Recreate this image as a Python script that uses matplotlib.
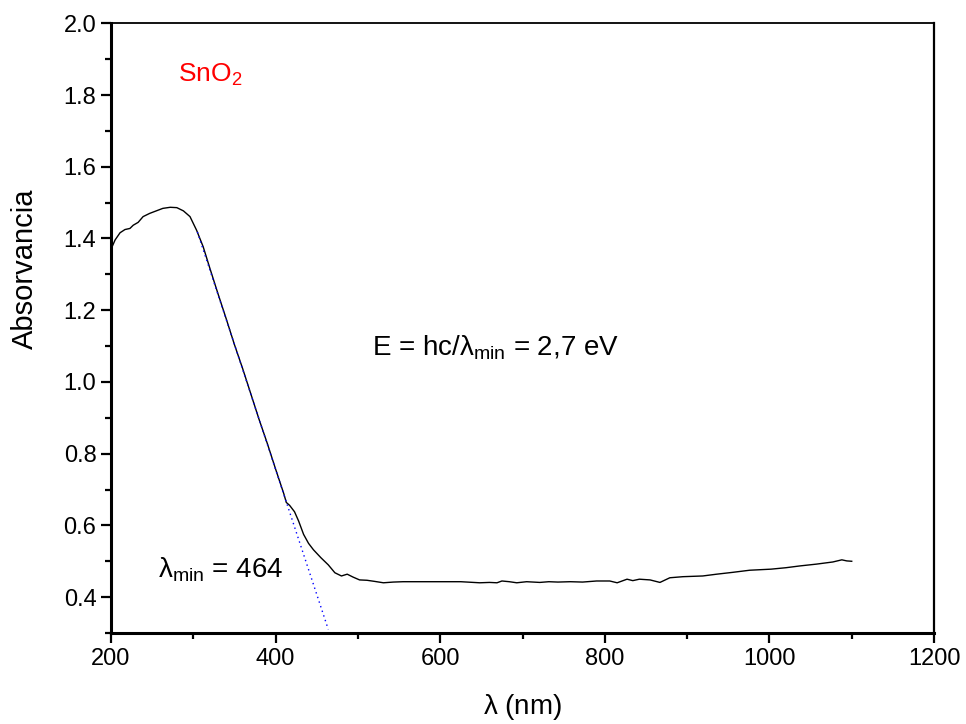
import numpy as np
import matplotlib
matplotlib.use("Agg")
import matplotlib.pyplot as plt
from matplotlib.ticker import MultipleLocator

plt.rcParams["font.family"] = ["Liberation Sans", "DejaVu Sans"]
plt.rcParams["mathtext.fontset"] = "custom"
plt.rcParams["mathtext.rm"] = "Liberation Sans"
plt.rcParams["mathtext.it"] = "Liberation Sans"
plt.rcParams["mathtext.default"] = "regular"

# UV-Vis absorbance spectrum of SnO2
wavelength = [200, 205, 211, 217, 223, 227, 233, 239, 247, 255, 263, 272, 280, 288,
              296, 304, 312, 320, 330, 340, 350, 360, 370, 380, 390, 400, 410,
              413, 417, 423, 428, 434, 440, 446, 455, 464, 472, 480, 487, 494,
              502, 511, 520, 531, 543, 555, 575, 600, 625, 648, 660, 669, 675,
              684, 693, 705, 721, 732, 743, 758, 773, 790, 806, 815, 827, 834,
              842, 855, 867, 879, 895, 919, 936, 955, 976, 1002, 1020, 1037,
              1057, 1077, 1088, 1094, 1100]
absorbance = [1.370, 1.396, 1.416, 1.425, 1.428, 1.437, 1.445, 1.461, 1.470, 1.477,
              1.484, 1.487, 1.486, 1.477, 1.461, 1.423, 1.377, 1.318, 1.246, 1.176,
              1.104, 1.037, 0.966, 0.895, 0.828, 0.757, 0.688, 0.664, 0.656, 0.638,
              0.612, 0.575, 0.550, 0.532, 0.510, 0.490, 0.468, 0.459, 0.464, 0.456,
              0.448, 0.447, 0.444, 0.440, 0.442, 0.443, 0.443, 0.443, 0.443, 0.440,
              0.441, 0.440, 0.445, 0.443, 0.440, 0.443, 0.441, 0.443, 0.442, 0.443,
              0.442, 0.445, 0.445, 0.440, 0.450, 0.446, 0.450, 0.448, 0.441, 0.454,
              0.457, 0.459, 0.464, 0.469, 0.475, 0.478, 0.482, 0.487, 0.492, 0.498,
              0.504, 0.501, 0.500]

# linear fit of the absorption edge, extrapolated to lambda_min
edge_x = [305, 464]
edge_y = [1.418, 0.310]

fig = plt.figure(figsize=(9.66, 7.24), dpi=100)
ax = fig.add_axes([0.1149, 0.1257, 0.852, 0.8421])

ax.plot(wavelength, absorbance, color="black", lw=1.0)
ax.plot(edge_x, edge_y, color="blue", lw=1.0, linestyle=(0, (1, 2.5)))

ax.set_xlim(200, 1200)
ax.set_ylim(0.3, 2.0)
ax.xaxis.set_major_locator(MultipleLocator(200))
ax.xaxis.set_minor_locator(MultipleLocator(100))
ax.yaxis.set_major_locator(MultipleLocator(0.2))
ax.yaxis.set_minor_locator(MultipleLocator(0.1))
ax.yaxis.set_major_formatter(plt.FuncFormatter(lambda v, p: f"{v:.1f}"))

ax.tick_params(which="major", direction="out", length=7, width=1.6, labelsize=17)
ax.tick_params(which="minor", direction="out", length=4, width=1.6)
ax.tick_params(top=False, right=False)
ax.spines["left"].set_linewidth(2.2)
ax.spines["bottom"].set_linewidth(2.2)
ax.spines["top"].set_linewidth(1.3)
ax.spines["right"].set_linewidth(1.6)

ax.set_xlabel(r"$\lambda$ (nm)", fontsize=20, labelpad=16)
ax.set_ylabel("Absorvancia", fontsize=21)
ax.yaxis.set_label_coords(-0.087, 0.597)

ax.text(281, 1.856, r"SnO$_2$", color="red", fontsize=19, va="center")
ax.text(517, 1.094, r"E = hc/$\lambda_{min}$ = 2,7 eV", fontsize=20, va="center")
ax.text(257, 0.475, r"$\lambda_{min}$ = 464", fontsize=20, va="center")

fig.savefig("out.png", dpi=100)
